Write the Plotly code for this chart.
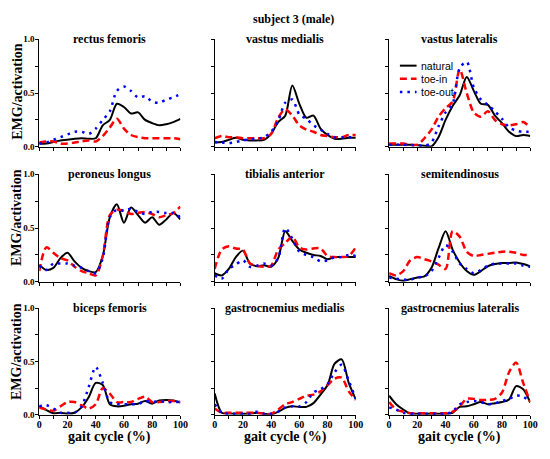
"""
EMG / activation curves over the gait cycle, subject 3 (male)
"""
import plotly.graph_objects as go
from plotly.subplots import make_subplots

W, H = 550, 459

gait = list(range(0, 101, 5))

muscles = ['rectus femoris', 'vastus medialis', 'vastus lateralis',
           'peroneus longus', 'tibialis anterior', 'semitendinosus',
           'biceps femoris', 'gastrocnemius medialis', 'gastrocnemius lateralis']

# rectus femoris
rf_nat = [0.03, 0.03, 0.045, 0.06, 0.065, 0.075, 0.08, 0.075, 0.08, 0.2, 0.25, 0.4, 0.37, 0.31, 0.32, 0.25, 0.22, 0.2, 0.21, 0.23, 0.26]
rf_in = [0.04, 0.05, 0.05, 0.03, 0.03, 0.04, 0.05, 0.06, 0.05, 0.1, 0.18, 0.26, 0.17, 0.11, 0.09, 0.08, 0.08, 0.08, 0.08, 0.08, 0.07]
rf_out = [0.03, 0.04, 0.065, 0.09, 0.115, 0.14, 0.14, 0.12, 0.17, 0.25, 0.33, 0.52, 0.56, 0.52, 0.46, 0.47, 0.42, 0.41, 0.44, 0.46, 0.49]
# vastus medialis
vm_nat = [0.04, 0.045, 0.065, 0.085, 0.065, 0.06, 0.06, 0.065, 0.12, 0.23, 0.29, 0.57, 0.4, 0.27, 0.29, 0.17, 0.11, 0.075, 0.075, 0.085, 0.085]
vm_in = [0.08, 0.1, 0.09, 0.09, 0.08, 0.08, 0.08, 0.08, 0.12, 0.27, 0.35, 0.29, 0.2, 0.16, 0.14, 0.11, 0.1, 0.09, 0.09, 0.11, 0.11]
vm_out = [0.045, 0.04, 0.035, 0.045, 0.06, 0.07, 0.075, 0.09, 0.14, 0.24, 0.41, 0.44, 0.3, 0.26, 0.2, 0.16, 0.12, 0.09, 0.09, 0.09, 0.09]
# vastus lateralis
vl_nat = [0.02, 0.02, 0.02, 0.02, 0.015, 0.01, 0.005, 0.09, 0.25, 0.38, 0.48, 0.65, 0.52, 0.4, 0.39, 0.29, 0.22, 0.14, 0.1, 0.11, 0.1]
vl_in = [0.03, 0.03, 0.03, 0.02, 0.02, 0.08, 0.16, 0.28, 0.36, 0.42, 0.72, 0.5, 0.32, 0.28, 0.33, 0.25, 0.21, 0.2, 0.21, 0.23, 0.18]
vl_out = [0.02, 0.02, 0.02, 0.015, 0.015, 0.01, 0.04, 0.19, 0.32, 0.4, 0.73, 0.79, 0.55, 0.44, 0.39, 0.33, 0.26, 0.18, 0.15, 0.14, 0.14]
# peroneus longus
pl_nat = [0.16, 0.11, 0.13, 0.22, 0.27, 0.19, 0.13, 0.1, 0.09, 0.24, 0.6, 0.72, 0.55, 0.69, 0.62, 0.55, 0.6, 0.53, 0.58, 0.64, 0.58]
pl_in = [0.1, 0.32, 0.27, 0.22, 0.2, 0.14, 0.1, 0.08, 0.06, 0.24, 0.62, 0.67, 0.66, 0.63, 0.64, 0.65, 0.63, 0.6, 0.62, 0.64, 0.7]
pl_out = [0.15, 0.11, 0.17, 0.17, 0.17, 0.15, 0.13, 0.1, 0.08, 0.22, 0.6, 0.67, 0.66, 0.68, 0.65, 0.63, 0.65, 0.65, 0.64, 0.64, 0.6]
# tibialis anterior
ta_nat = [0.08, 0.06, 0.12, 0.23, 0.29, 0.17, 0.145, 0.155, 0.14, 0.22, 0.47, 0.38, 0.3, 0.27, 0.25, 0.24, 0.21, 0.23, 0.23, 0.23, 0.23]
ta_in = [0.12, 0.3, 0.33, 0.31, 0.3, 0.17, 0.15, 0.14, 0.15, 0.3, 0.36, 0.42, 0.32, 0.3, 0.31, 0.31, 0.24, 0.23, 0.23, 0.24, 0.32]
ta_out = [0.06, 0.03, 0.12, 0.16, 0.2, 0.14, 0.15, 0.17, 0.15, 0.22, 0.5, 0.4, 0.28, 0.25, 0.23, 0.19, 0.2, 0.23, 0.23, 0.25, 0.24]
# semitendinosus
st_nat = [0.055, 0.025, 0.01, 0.025, 0.04, 0.05, 0.13, 0.31, 0.47, 0.3, 0.18, 0.1, 0.065, 0.1, 0.145, 0.165, 0.175, 0.175, 0.18, 0.165, 0.145]
st_in = [0.08, 0.06, 0.1, 0.2, 0.23, 0.21, 0.19, 0.16, 0.12, 0.47, 0.42, 0.28, 0.24, 0.25, 0.26, 0.27, 0.28, 0.28, 0.27, 0.25, 0.25]
st_out = [0.04, 0.03, 0.02, 0.02, 0.04, 0.05, 0.1, 0.22, 0.34, 0.28, 0.17, 0.12, 0.08, 0.11, 0.15, 0.17, 0.17, 0.17, 0.17, 0.15, 0.14]
# biceps femoris
bf_nat = [0.08, 0.045, 0.015, 0.02, 0.012, 0.02, 0.07, 0.165, 0.3, 0.28, 0.1, 0.08, 0.085, 0.1, 0.105, 0.13, 0.105, 0.135, 0.14, 0.135, 0.115]
bf_in = [0.07, 0.05, 0.04, 0.08, 0.12, 0.12, 0.09, 0.06, 0.1, 0.25, 0.2, 0.12, 0.12, 0.12, 0.15, 0.17, 0.12, 0.12, 0.13, 0.13, 0.12]
bf_out = [0.08, 0.09, 0.06, 0.02, 0.02, 0.02, 0.08, 0.26, 0.45, 0.3, 0.12, 0.1, 0.1, 0.1, 0.1, 0.13, 0.12, 0.13, 0.12, 0.12, 0.12]
# gastrocnemius medialis
gm_nat = [0.2, 0.02, 0.012, 0.01, 0.01, 0.01, 0.02, 0.01, 0.005, 0.03, 0.065, 0.08, 0.075, 0.075, 0.11, 0.19, 0.28, 0.48, 0.52, 0.3, 0.145]
gm_in = [0.06, 0.02, 0.02, 0.02, 0.02, 0.02, 0.02, 0.01, 0.01, 0.05, 0.1, 0.12, 0.15, 0.18, 0.19, 0.22, 0.28, 0.34, 0.35, 0.22, 0.14]
gm_out = [0.1, 0.02, 0.01, 0.01, 0.01, 0.01, 0.03, 0.01, 0.01, 0.03, 0.07, 0.08, 0.08, 0.12, 0.21, 0.24, 0.29, 0.4, 0.47, 0.32, 0.15]
# gastrocnemius lateralis
gl_nat = [0.18, 0.1, 0.05, 0.012, 0.01, 0.01, 0.01, 0.01, 0.01, 0.02, 0.075, 0.08, 0.1, 0.12, 0.1, 0.11, 0.12, 0.145, 0.27, 0.24, 0.115]
gl_in = [0.12, 0.05, 0.03, 0.015, 0.015, 0.015, 0.015, 0.015, 0.015, 0.03, 0.08, 0.15, 0.15, 0.14, 0.14, 0.15, 0.21, 0.4, 0.49, 0.3, 0.12]
gl_out = [0.07, 0.05, 0.02, 0.01, 0.01, 0.01, 0.01, 0.01, 0.01, 0.03, 0.1, 0.12, 0.13, 0.12, 0.1, 0.11, 0.13, 0.15, 0.18, 0.17, 0.12]

natural = [rf_nat, vm_nat, vl_nat, pl_nat, ta_nat, st_nat, bf_nat, gm_nat, gl_nat]
toe_in = [rf_in, vm_in, vl_in, pl_in, ta_in, st_in, bf_in, gm_in, gl_in]
toe_out = [rf_out, vm_out, vl_out, pl_out, ta_out, st_out, bf_out, gm_out, gl_out]

conditions = ['natural', 'toe-in', 'toe-out']
styles = {
    'natural': dict(color='black', width=2, dash='solid'),
    'toe-in': dict(color='#ff0000', width=2.5, dash='7px,4px'),
    'toe-out': dict(color='#0000ff', width=2.5, dash='2.5px,5px'),
}

# plot area corners in pixels (left, right) and (top, bottom)
cols_px = [(37, 181), (216, 360), (394, 538)]
rows_px = [(35, 145), (173, 283), (310, 419)]
ylab_px = [88, 217, 354]

serif = 'Liberation Serif'
sans = 'Liberation Sans'

fig = make_subplots(rows=3, cols=3)

for k, name in enumerate(muscles):
    r, c = k // 3 + 1, k % 3 + 1
    for cond, data in zip(conditions, [natural[k], toe_in[k], toe_out[k]]):
        fig.add_trace(go.Scatter(x=gait, y=data, mode='lines', name=cond,
                                 line=dict(shape='spline', smoothing=0.8, **styles[cond]),
                                 showlegend=False), row=r, col=c)

    l, rt = cols_px[c - 1]
    t, b = rows_px[r - 1]
    xt = [str(v) if (r == 3 and v % 20 == 0) else '' for v in range(0, 101, 10)]
    yt = ['0.0', '', '0.5', '', '1.0'] if c == 1 else [''] * 5
    fig.update_xaxes(domain=[l / W, rt / W], range=[0, 100],
                     tickvals=list(range(0, 101, 10)), ticktext=xt,
                     row=r, col=c)
    fig.update_yaxes(domain=[1 - b / H, 1 - t / H], range=[0, 1],
                     tickvals=[0, 0.25, 0.5, 0.75, 1], ticktext=yt,
                     row=r, col=c)

    ax = '' if k == 0 else str(k + 1)
    fig.add_annotation(text=f'<b>{name}</b>', x=0.5, y=1, xref=f'x{ax} domain', yref=f'y{ax} domain',
                       xanchor='center', yanchor='middle', showarrow=False,
                       font=dict(family=serif, size=12, color='black'))

fig.update_xaxes(showgrid=False, zeroline=False, showline=True, linecolor='black', linewidth=1,
                 ticks='outside', ticklen=3, tickcolor='black', ticklabelstandoff=-3,
                 tickfont=dict(family=serif, size=10, color='black', weight='bold'))
fig.update_yaxes(showgrid=False, zeroline=False, showline=True, linecolor='black', linewidth=1,
                 ticks='outside', ticklen=3, tickcolor='black', ticklabelstandoff=-1,
                 tickfont=dict(family=serif, size=9, color='black', weight='bold'))

# axis titles
for yp in ylab_px:
    fig.add_annotation(text='<b>EMG/activation</b>', x=14 / W, y=1 - yp / H, xref='paper', yref='paper',
                       textangle=-90, showarrow=False, xanchor='center', yanchor='middle',
                       font=dict(family=serif, size=14, color='black'))
for l, rt in cols_px:
    fig.add_annotation(text='<b>gait cycle (%)</b>', x=(l + rt) / 2 / W, y=1 - 442 / H,
                       xref='paper', yref='paper', showarrow=False, xanchor='center', yanchor='middle',
                       font=dict(family=serif, size=14, color='black'))

fig.add_annotation(text='<b>subject 3 (male)</b>', x=296 / W, y=1 - 14 / H, xref='paper', yref='paper',
                   showarrow=False, xanchor='center', yanchor='middle',
                   font=dict(family=serif, size=12, color='black'))

# legend inside the vastus lateralis panel
for i, cond in enumerate(conditions):
    yl = 1 - (62 + 13.5 * i) / H
    st = styles[cond]
    fig.add_shape(type='line', xref='paper', yref='paper', x0=405 / W, x1=422 / W, y0=yl, y1=yl,
                  line=dict(color=st['color'], width=st['width'], dash=st['dash']))
    fig.add_annotation(text=cond, x=424 / W, y=yl, xref='paper', yref='paper', showarrow=False,
                       xanchor='left', yanchor='middle', font=dict(family=sans, size=10.5, color='black'))

fig.update_layout(width=W, height=H, margin=dict(l=0, r=0, t=0, b=0),
                  plot_bgcolor='white', paper_bgcolor='white')

# drop the default page margin so the figure sits at the window corner
fig.write_html("out.html", config={'displayModeBar': False},
               post_script="document.body.style.margin='0';")
